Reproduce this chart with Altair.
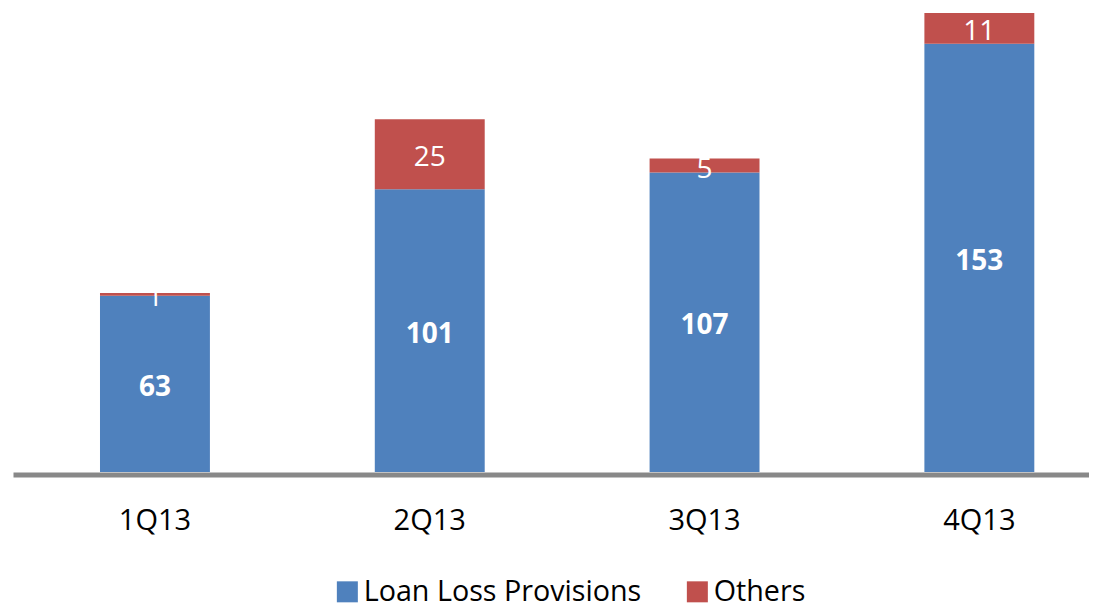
import altair as alt
import pandas as pd

quarters = ["1Q13", "2Q13", "3Q13", "4Q13"]
loan_loss = [63, 101, 107, 153]
others = [1, 25, 5, 11]
series = ["Loan Loss Provisions", "Others"]
colors = ["#4F81BD", "#C0504D"]

rows = []
for i, q in enumerate(quarters):
    rows.append({"quarter": q, "series": series[0], "value": loan_loss[i], "order": 0})
    rows.append({"quarter": q, "series": series[1], "value": others[i], "order": 1})
df = pd.DataFrame(rows)

FONT = "Open Sans"

base = alt.Chart(df).transform_stack(
    stack="value",
    groupby=["quarter"],
    as_=["y0", "y1"],
    sort=[alt.SortField("order", order="ascending")],
).transform_calculate(mid="(datum.y0 + datum.y1) / 2")

xenc = alt.X(
    "quarter:N",
    sort=quarters,
    scale=alt.Scale(paddingInner=0.6, paddingOuter=0.2578, align=0.614, round=False),
    axis=alt.Axis(
        title=None,
        ticks=False,
        labelAngle=0,
        labelFont=FONT,
        labelFontSize=29,
        labelColor="#000000",
        labelPadding=32,
        domainColor="#888888",
        domainWidth=5,
        offset=2.5,
        grid=False,
    ),
)
yscale = alt.Scale(domain=[0, 164], nice=False, zero=True)

bars = base.mark_bar().encode(
    x=xenc,
    y=alt.Y("y0:Q", scale=yscale, axis=None),
    y2="y1:Q",
    color=alt.Color(
        "series:N",
        scale=alt.Scale(domain=series, range=colors),
        legend=alt.Legend(
            title=None,
            orient="none",
            legendX=320,
            legendY=564,
            direction="horizontal",
            symbolType="square",
            symbolSize=441,
            symbolStrokeWidth=0,
            symbolOpacity=1,
            labelFont=FONT,
            labelFontSize=28.7,
            labelColor="#000000",
            labelLimit=0,
            labelOffset=2,
            columnPadding=41,
            padding=0,
        ),
    ),
)

lbl_blue = base.transform_filter(alt.datum.order == 0).mark_text(
    color="white", font=FONT, fontSize=28, fontWeight="bold", baseline="middle", dy=4
).encode(x=alt.X("quarter:N", sort=quarters), y=alt.Y("mid:Q", scale=yscale), text="value:Q")

lbl_red = base.transform_filter(alt.datum.order == 1).mark_text(
    color="white", font=FONT, fontSize=28, baseline="middle", dy=4
).encode(x=alt.X("quarter:N", sort=quarters), y=alt.Y("mid:Q", scale=yscale), text="value:Q")

chart = (
    alt.layer(bars, lbl_blue, lbl_red)
    .properties(width=1076, height=459, padding={"left": 5, "top": 5, "right": 0, "bottom": 5})
    .configure_view(stroke=None)
)

chart.save("out.html", embed_options={"renderer": "svg", "actions": False})
